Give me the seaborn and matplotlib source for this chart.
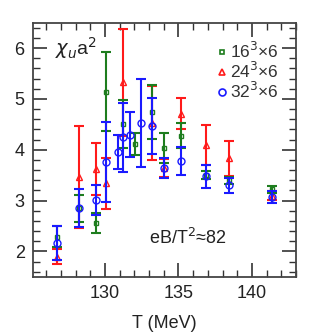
import numpy as np
import matplotlib
matplotlib.use("Agg")
import matplotlib.pyplot as plt
from matplotlib.ticker import MultipleLocator
import pandas as pd
import seaborn as sns

sns.set_style("ticks")
plt.rcParams['font.family'] = ['Liberation Sans', 'DejaVu Sans']

# 16^3 x 6
t16 = [126.72, 128.21, 129.37, 130.10, 131.22, 132.06, 133.22, 134.01, 135.19, 136.84, 138.47, 141.36]
v16 = [2.29, 2.85, 2.56, 5.14, 4.50, 4.11, 4.74, 4.04, 4.28, 3.50, 3.40, 3.22]
e16 = [0.21, 0.27, 0.20, 0.78, 0.47, 0.22, 0.53, 0.30, 0.25, 0.08, 0.07, 0.07]

# 24^3 x 6
t24 = [126.72, 128.21, 129.37, 130.10, 131.22, 133.22, 134.01, 135.19, 136.84, 138.47, 141.36]
v24 = [1.90, 3.46, 3.62, 3.34, 5.33, 4.53, 3.64, 4.71, 4.09, 3.83, 3.10]
e24 = [0.15, 1.00, 0.51, 0.50, 1.05, 0.73, 0.17, 0.30, 0.39, 0.35, 0.08]

# 32^3 x 6
t32 = [126.72, 128.21, 129.37, 130.10, 130.88, 131.22, 131.68, 132.42, 133.22, 134.01, 135.19, 136.84, 138.47, 141.36]
v32 = [2.17, 2.85, 3.01, 3.76, 3.96, 4.25, 4.30, 4.53, 4.46, 3.64, 3.78, 3.48, 3.30, 3.07]
e32 = [0.33, 0.37, 0.29, 0.78, 0.33, 0.68, 0.45, 0.86, 0.55, 0.20, 0.28, 0.23, 0.15, 0.11]

labels = ['16$^3$×6', '24$^3$×6', '32$^3$×6']
colors = ['#1e7d1e', '#ff1a1a', '#1a1aff']
markers = ['s', '^', 'o']

df = pd.concat([
    pd.DataFrame({'T': t16, 'chi': v16, 'err': e16, 'lat': labels[0]}),
    pd.DataFrame({'T': t24, 'chi': v24, 'err': e24, 'lat': labels[1]}),
    pd.DataFrame({'T': t32, 'chi': v32, 'err': e32, 'lat': labels[2]}),
], ignore_index=True)

fig = plt.figure(figsize=(3.11, 3.34), dpi=100)
ax = fig.add_axes([0.106, 0.171, 0.846, 0.761])

# draw order: red, green, blue
order = [1, 0, 2]
sizes = {0: 3.2, 1: 4.0, 2: 5.0}
for i in order:
    d = df[df['lat'] == labels[i]]
    ax.errorbar(d['T'], d['chi'], yerr=d['err'], fmt='none', ecolor=colors[i],
                elinewidth=1.5, capsize=3.5, capthick=1.5, zorder=2 + order.index(i))
    ax.plot(d['T'], d['chi'], linestyle='none', marker=markers[i], ms=sizes[i],
            mfc='none', mec=colors[i], mew=1.0, zorder=2 + order.index(i))

# legend handles
handles = [plt.Line2D([], [], linestyle='none', marker=markers[i], ms=sizes[i],
                      mfc='none', mec=colors[i], mew=1.2) for i in range(3)]
leg = ax.legend(handles, labels, loc='upper right', frameon=False, fontsize=12.5,
                handlelength=0.5, handletextpad=0.2, labelspacing=0.0,
                borderaxespad=0.0, bbox_to_anchor=(0.96, 0.955))
for t in leg.get_texts():
    t.set_color('#333333')

ax.set_xlim(125.1, 143.0)
ax.set_ylim(1.5, 6.5)
ax.xaxis.set_major_locator(MultipleLocator(5))
ax.xaxis.set_minor_locator(MultipleLocator(1))
ax.yaxis.set_major_locator(MultipleLocator(1))
ax.yaxis.set_minor_locator(MultipleLocator(0.2))
ax.tick_params(which='both', direction='in', top=True, right=True,
               colors='#333333', labelsize=13, labelcolor='#222222')
ax.tick_params(which='major', length=10, width=1.2, pad=6)
ax.tick_params(which='minor', length=5, width=1.0)
for s in ax.spines.values():
    s.set_color('#444444')
    s.set_linewidth(1.3)

ax.set_xlabel('T (MeV)', fontsize=13, color='#222222', labelpad=9)
ax.set_ylabel('')
ax.text(0.084, 0.90, r'$\chi_u$a$^2$', transform=ax.transAxes, fontsize=14,
        va='center', ha='left', color='#222222')
ax.text(0.44, 0.153, 'eB/T$^2$≈82', transform=ax.transAxes, fontsize=13,
        va='center', ha='left', color='#222222')

fig.savefig('out.png', dpi=100)
